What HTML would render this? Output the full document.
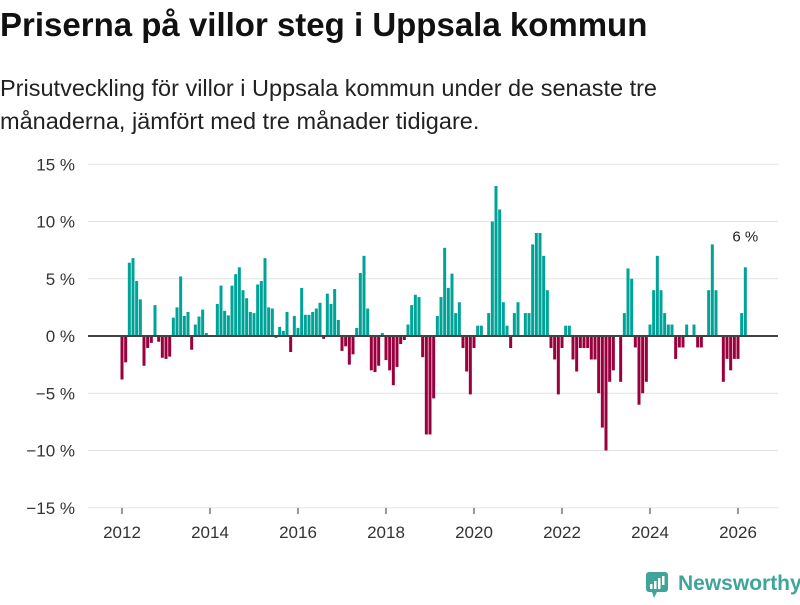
<!DOCTYPE html>
<html><head><meta charset="utf-8">
<style>
body{margin:0;background:#fff;width:800px;height:600px;overflow:hidden;font-family:"Liberation Sans","DejaVu Sans",sans-serif;}
</style></head>
<body>
<svg id="chart" width="800" height="600" xmlns="http://www.w3.org/2000/svg">
<text x="0" y="36" font-family="Liberation Sans, sans-serif" font-weight="bold" font-size="33" fill="#111">Priserna på villor steg i Uppsala kommun</text>
<text x="0" y="96" font-family="Liberation Sans, sans-serif" font-size="23.5" fill="#222">Prisutveckling för villor i Uppsala kommun under de senaste tre</text>
<text x="0" y="129" font-family="Liberation Sans, sans-serif" font-size="23.5" fill="#222">månaderna, jämfört med tre månader tidigare.</text>
<g id="grid"></g>
<g id="bars"></g>
<g id="axes"></g>
<g>
<rect x="646" y="572" width="22" height="20" rx="3" fill="#3fa59b"/>
<polygon points="652,592 657,592 654,598" fill="#3fa59b"/>
<rect x="650" y="584" width="2.5" height="5" fill="#fff"/>
<rect x="654" y="581" width="2.5" height="8" fill="#fff"/>
<rect x="658" y="578" width="2.5" height="11" fill="#fff"/>
<rect x="662" y="576" width="2.5" height="9" fill="#fff"/>
<text x="678" y="590" font-family="Liberation Sans, sans-serif" font-weight="bold" font-size="21" fill="#3fa59b">Newsworthy</text>
</g>
</svg>
<script>
const yTicks = [15, 10, 5, 0, -5, -10, -15];
const yTickLabels = ["15 %", "10 %", "5 %", "0 %", "−5 %", "−10 %", "−15 %"];
const xTickYears = [2012, 2014, 2016, 2018, 2020, 2022, 2024, 2026];
const startYear = 2012;
const values = [
-3.8,-2.3,6.4,6.8,4.8,3.2,-2.6,-1.05,-0.6,2.7,-0.5,-1.9,
-2.0,-1.8,1.6,2.5,5.2,1.75,2.1,-1.2,1.0,1.7,2.3,0.26,
0,0,2.8,4.4,2.2,1.8,4.4,5.4,6.0,4.0,3.3,2.1,
2.0,4.5,4.8,6.8,2.5,2.4,-0.15,0.8,0.45,2.1,-1.4,1.75,
0.7,4.2,1.85,1.85,2.1,2.4,2.9,-0.25,3.7,2.8,4.1,1.4,
-1.3,-0.9,-2.5,-1.6,0.7,5.5,7.0,2.4,-3.0,-3.15,-2.6,0.26,
-2.1,-3.0,-4.3,-2.7,-0.7,-0.35,1.0,2.7,3.6,3.4,-1.85,-8.6,
-8.6,-5.45,1.75,3.4,7.7,4.2,5.45,2.0,2.95,-1.05,-3.1,-5.1,
-1.05,0.9,0.9,0,2.0,10.0,13.1,11.05,2.95,0.9,-1.05,2.0,
2.95,0,2.0,2.0,8.0,9.0,9.0,7.0,4.0,-1.05,-2.05,-5.1,
-1.05,0.9,0.9,-2.05,-3.1,-1.05,-1.05,-1.05,-2.05,-2.05,-5.0,-8.0,
-10.0,-4.0,-3.0,0,-4.0,2.0,5.9,5.0,-1.0,-6.0,-5.0,-4.0,
1.0,4.0,7.0,4.0,2.0,1.0,1.0,-2.0,-1.0,-1.0,1.0,0,
1.0,-1.0,-1.0,0,4.0,8.0,4.0,0,-4.0,-2.0,-3.0,-2.0,
-2.0,2.0,6.0
];
const lastLabel = "6 %";

const NS = "http://www.w3.org/2000/svg";
function y(v){ return 336 - v * 11.45; }
function x(i){ return 122 + i * (44/12); }
function xYear(yr){ return x((yr - startYear) * 12); }
function mk(tag, attrs, parent){ const e=document.createElementNS(NS,tag); for(const k in attrs) e.setAttribute(k,attrs[k]); parent.appendChild(e); return e; }

const grid = document.getElementById('grid');
const axes = document.getElementById('axes');
const bars = document.getElementById('bars');
yTicks.forEach((t, k) => {
  if (t !== 0) {
    const l = mk('line', {x1:88, x2:778, y1:y(t), y2:y(t), stroke:'#e2e2e2', 'stroke-width':1}, grid);
    
    
  }
  const tx = mk('text', {x:75, y:y(t)+6, 'text-anchor':'end', 'font-size':17, fill:'#333'}, axes);
  tx.textContent = yTickLabels[k];
  
  
});
xTickYears.forEach(yr => {
  const tk = mk('line', {x1:xYear(yr), x2:xYear(yr), y1:508, y2:514, stroke:'#333', 'stroke-width':1}, axes);
  
  
  const tx = mk('text', {x:xYear(yr), y:538, 'text-anchor':'middle', 'font-size':17, fill:'#333'}, axes);
  tx.textContent = String(yr);
  
  
});
values.forEach((v, i) => {
  const top = Math.min(y(v), y(0)), h = Math.abs(y(v) - y(0));
  const r = mk('rect', {x:x(i)-1.5, y:top, width:3, height:h, fill: v >= 0 ? '#00a398' : '#99003d'}, bars);
  
  
});
const zl = mk('line', {x1:88, x2:778, y1:y(0), y2:y(0), stroke:'#444', 'stroke-width':2}, axes);


const li = values.length - 1;
const lab = mk('text', {x:x(li), y:y(values[li]) - 26, 'text-anchor':'middle', 'font-size':15, fill:'#222'}, axes);
lab.textContent = lastLabel;


</script>
</body></html>
